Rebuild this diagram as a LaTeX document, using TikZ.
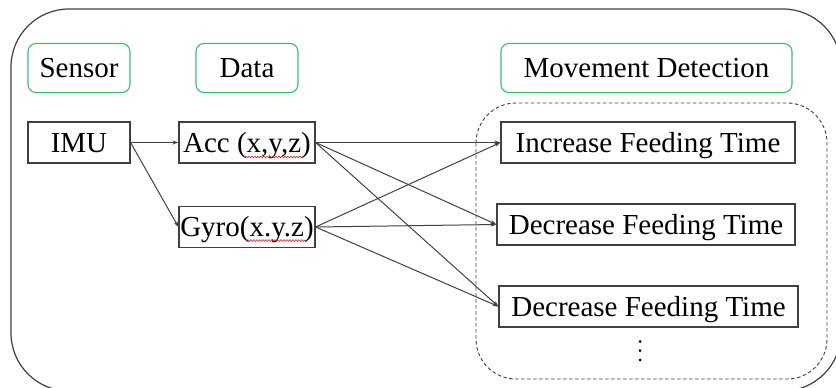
\documentclass[tikz,border=0pt]{standalone}
\usepackage{fontspec}
\setmainfont{Liberation Serif}
\newfontfamily\labelfont{Liberation Serif}
\usetikzlibrary{arrows.meta,decorations.pathmorphing,calc}
\definecolor{framegray}{RGB}{64,64,64}
\definecolor{headgreen}{RGB}{60,190,115}
\definecolor{spellred}{RGB}{220,40,40}
\begin{document}
\begin{tikzpicture}[x=1pt,y=-1pt,
  every node/.style={font=\labelfont\fontsize{29}{32}\selectfont, inner sep=0pt, text height=19pt, text depth=0pt},
  header/.style={draw=headgreen, line width=1.1pt, rounded corners=8pt, minimum height=49pt},
  stage/.style={draw=framegray, line width=1.1pt, minimum height=41pt},
  link/.style={draw=framegray, line width=1pt, -{Stealth[length=6pt,width=4pt]}},
  wavy/.style={draw=spellred, line width=0.6pt, decorate, decoration={snake, amplitude=0.9pt, segment length=3pt}}]
\useasboundingbox (0,0) rectangle (836,388);
\clip (0,0) rectangle (836,388);

% outer frame
\draw[framegray, line width=1.2pt, rounded corners=58pt] (11,9) rectangle (841,391);

% dashed group of detected movements
\draw[framegray, line width=0.9pt, dash pattern=on 3.5pt off 2.5pt, rounded corners=40pt] (476,103) rectangle (827,379);

% column headers
\node[header, minimum width=102pt] (hsensor) at (79,68) {Sensor};
\node[header, minimum width=102pt] (hdata) at (247,68) {Data};
\node[header, minimum width=291pt] (hmove) at (646.5,68) {Movement Detection};

% stages
\node[stage, minimum width=102pt] (imu) at (79,142.5) {IMU};
\node[stage, minimum width=136pt] (acc) at (247,142.5) {Acc (x,y,z)};
\node[stage, minimum width=136pt] (gyro) at (247,227) {Gyro(x.y.z)};
\node[stage, minimum width=294pt] (inc) at (648,142.5) {Increase Feeding Time};
\node[stage, minimum width=298pt] (dec1) at (646,224.5) {Decrease Feeding Time};
\node[stage, minimum width=299pt] (dec2) at (648.5,306.5) {Decrease Feeding Time};

% continuation dots
\foreach \dy in {341.5,350.7,360}
  \fill (640,\dy) circle (1.5pt);

% spell-check underlines
\draw[wavy] ($(acc.center)+(-2,14.5)$) -- ($(acc.center)+(56,14.5)$);
\draw[wavy] ($(gyro.center)+(0,13.5)$) -- ($(gyro.center)+(58,13.5)$);

% connectors
\draw[link] (imu.east) -- (acc.west);
\draw[link] (imu.east) -- (gyro.west);
\foreach \src in {acc,gyro}
  \foreach \dst in {inc,dec1,dec2}
    \draw[link] (\src.east) -- (\dst.west);
\end{tikzpicture}
\end{document}
